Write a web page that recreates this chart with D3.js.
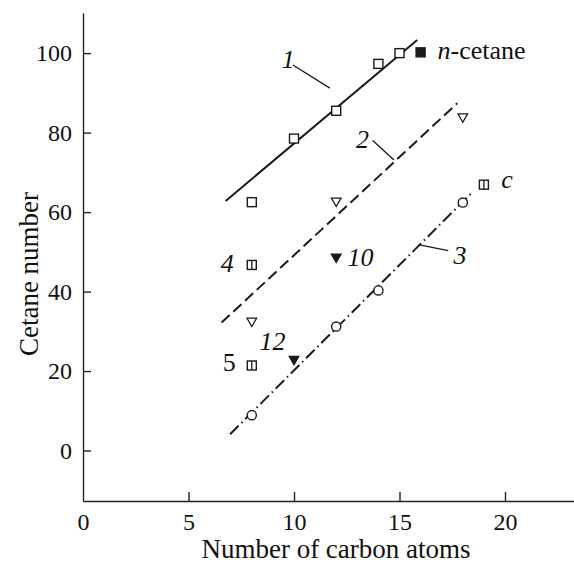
<!DOCTYPE html>
<html>
<head>
<meta charset="utf-8">
<script src="https://cdn.jsdelivr.net/npm/d3@7"></script>
<style>
  body { margin: 0; background: #fff; }
  svg { display: block; font-family: "Liberation Serif", "Times New Roman", serif; }
  .axis path, .axis line { stroke: #222; stroke-width: 1.4; }
  .axis text { font-size: 24px; fill: #111; font-family: "Liberation Serif", serif; }
</style>
</head>
<body>
<svg width="574" height="563"></svg>
<script>
// values
const xTicks = [0, 5, 10, 15, 20];
const yTicks = [0, 20, 40, 60, 80, 100];

// series 1: open squares, solid fit line
const s1Carbons = [8, 10, 12, 14, 15];
const s1Cetane = [62.5, 78.5, 85.5, 97.3, 100];
const line1 = [[6.76, 62.8], [15.84, 103.3]];

// n-cetane (filled square)
const nCetaneCarbons = [16];
const nCetaneValue = [100.2];

// series 2: open down triangles, dashed fit line
const s2Carbons = [8, 12, 18];
const s2Cetane = [32.6, 62.8, 84];
const line2 = [[6.57, 32.2], [17.74, 87.4]];

// series 3: open circles, dash-dot fit line
const s3Carbons = [8, 12, 14, 18];
const s3Cetane = [8.9, 31.2, 40.3, 62.4];
const line3 = [[6.97, 4.1], [18.45, 65.0]];

// split squares (4, 5, c)
const splitCarbons = [8, 8, 19];
const splitCetane = [46.7, 21.4, 66.9];

// filled down triangles (10, 12)
const filledCarbons = [12, 10];
const filledCetane = [48.7, 23.0];

// numbered labels and their leader lines
const labelText = ['1', '2', '3', '4', '5', '10', '12', 'c'];
const labelX = [9.73, 13.25, 17.87, 6.84, 6.93, 13.15, 8.98, 20.1];
const labelY = [96.2, 76.2, 46.9, 45.0, 19.9, 46.5, 25.3, 66.0];
const labelItalic = [true, true, true, true, false, true, true, true];
const leaders = [
    [[9.95, 97.0], [11.7, 91.2]],
    [[13.73, 78.0], [14.74, 73.1]],
    [[15.89, 51.8], [17.31, 50.3]]
];

const svg = d3.select('svg');
const ink = '#1a1a1a';

const x = d3.scaleLinear().domain([0, 23.27]).range([83, 574]);
const y = d3.scaleLinear().domain([-12.7, 110.1]).range([501, 13]);

// axes, ticks point inward
svg.append('g')
    .attr('class', 'axis')
    .attr('transform', `translate(0,${y(-12.7)})`)
    .call(d3.axisBottom(x).tickValues(xTicks).tickSizeInner(-9).tickSizeOuter(0).tickPadding(9))
    .call(g => g.selectAll('.tick').filter(d => d === 0).select('line').remove())
    .call(g => g.selectAll('.tick text').attr('dy', '0.85em'));

svg.append('g')
    .attr('class', 'axis')
    .attr('transform', `translate(${x(0)},0)`)
    .call(d3.axisLeft(y).tickValues(yTicks).tickSizeInner(-8).tickSizeOuter(0).tickPadding(11));

svg.append('text')
    .attr('x', 336).attr('y', 558)
    .attr('text-anchor', 'middle')
    .attr('font-size', 27)
    .attr('fill', '#111')
    .text('Number of carbon atoms');

svg.append('text')
    .attr('transform', 'translate(38,274) rotate(-90)')
    .attr('text-anchor', 'middle')
    .attr('font-size', 27)
    .attr('fill', '#111')
    .text('Cetane number');

// fit lines
const lineGen = d3.line().x(d => x(d[0])).y(d => y(d[1]));
svg.append('path').attr('d', lineGen(line1))
    .attr('stroke', ink).attr('stroke-width', 2).attr('fill', 'none');
svg.append('path').attr('d', lineGen(line2))
    .attr('stroke', ink).attr('stroke-width', 2).attr('fill', 'none')
    .attr('stroke-dasharray', '11,5');
svg.append('path').attr('d', lineGen(line3))
    .attr('stroke', ink).attr('stroke-width', 2).attr('fill', 'none')
    .attr('stroke-dasharray', '12,4,1.5,4');

svg.selectAll('path.leader')
    .data(leaders)
    .enter().append('path')
    .attr('class', 'leader')
    .attr('d', lineGen)
    .attr('stroke', ink).attr('stroke-width', 1.3).attr('fill', 'none');

// markers
const square = 9;
function addSquares(xs, ys, fill) {
    svg.selectAll(null)
        .data(xs.map((c, i) => [c, ys[i]]))
        .enter().append('rect')
        .attr('x', d => x(d[0]) - square / 2)
        .attr('y', d => y(d[1]) - square / 2)
        .attr('width', square).attr('height', square)
        .attr('fill', fill).attr('stroke', ink).attr('stroke-width', 1.4);
}
addSquares(s1Carbons, s1Cetane, '#fff');
addSquares(nCetaneCarbons, nCetaneValue, ink);
addSquares(splitCarbons, splitCetane, '#fff');

svg.selectAll(null)
    .data(splitCarbons.map((c, i) => [c, splitCetane[i]]))
    .enter().append('line')
    .attr('x1', d => x(d[0])).attr('x2', d => x(d[0]))
    .attr('y1', d => y(d[1]) - square / 2).attr('y2', d => y(d[1]) + square / 2)
    .attr('stroke', ink).attr('stroke-width', 1.3);

const tri = d3.symbol().type(d3.symbolTriangle).size(40);
function addTriangles(xs, ys, fill) {
    svg.selectAll(null)
        .data(xs.map((c, i) => [c, ys[i]]))
        .enter().append('path')
        .attr('d', tri)
        .attr('transform', d => `translate(${x(d[0])},${y(d[1])}) rotate(180)`)
        .attr('fill', fill).attr('stroke', ink).attr('stroke-width', 1.3);
}
addTriangles(s2Carbons, s2Cetane, '#fff');
addTriangles(filledCarbons, filledCetane, ink);

svg.selectAll(null)
    .data(s3Carbons.map((c, i) => [c, s3Cetane[i]]))
    .enter().append('circle')
    .attr('cx', d => x(d[0])).attr('cy', d => y(d[1]))
    .attr('r', 4.6)
    .attr('fill', '#fff').attr('stroke', ink).attr('stroke-width', 1.4);

// labels
svg.selectAll('text.num')
    .data(labelText)
    .enter().append('text')
    .attr('class', 'num')
    .attr('x', (d, i) => x(labelX[i]))
    .attr('y', (d, i) => y(labelY[i]))
    .attr('text-anchor', 'middle')
    .attr('font-size', 26)
    .attr('font-style', (d, i) => labelItalic[i] ? 'italic' : 'normal')
    .attr('fill', '#111')
    .text(d => d);

const nLabel = svg.append('text')
    .attr('x', x(16.8)).attr('y', y(98.6))
    .attr('font-size', 26)
    .attr('fill', '#111');
nLabel.append('tspan').attr('font-style', 'italic').text('n');
nLabel.append('tspan').text('-cetane');
</script>
</body>
</html>
